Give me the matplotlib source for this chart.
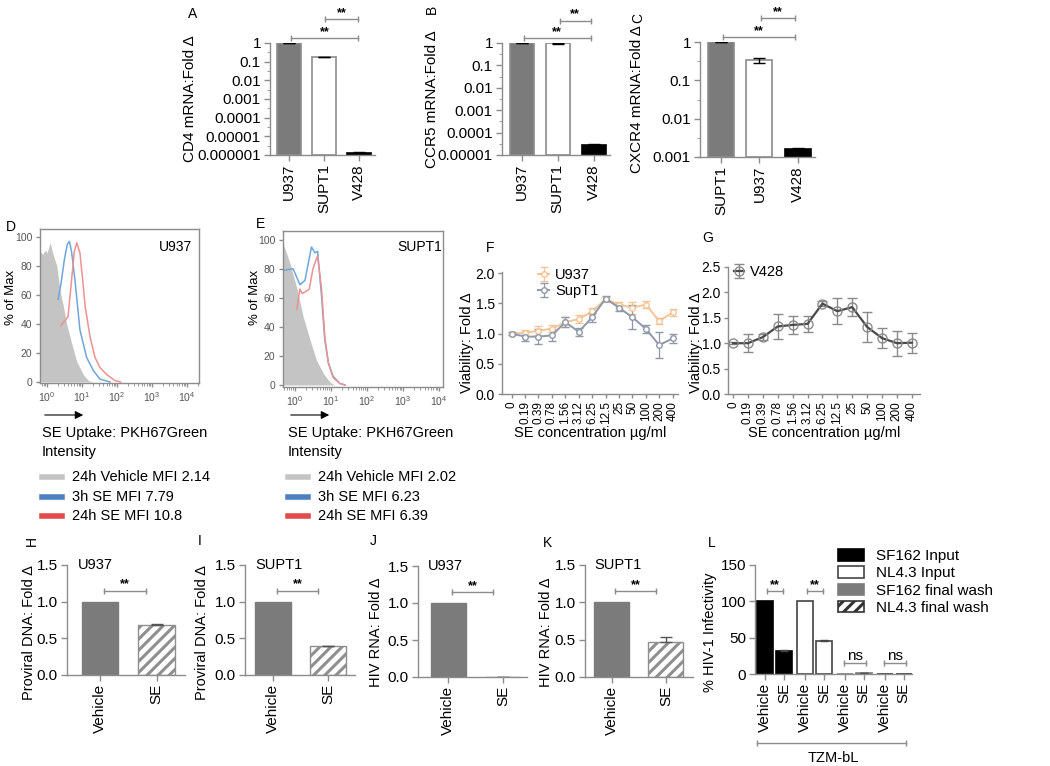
import matplotlib
matplotlib.use("Agg")
import matplotlib.pyplot as plt
import numpy as np
from matplotlib.lines import Line2D

W, H = 1050, 766
plt.rcParams["font.family"] = ["Liberation Sans", "DejaVu Sans"]
plt.rcParams["hatch.linewidth"] = 2.2

GREY = "#8c8c8c"
FILL = "#7b7b7b"

# ---- A-C: receptor mRNA (log scale)
A_cells = ["U937", "SUPT1", "V428"]
A_vals = [1.0, 0.18, 1.3e-6]
A_err = [0.0, 0.008, 0.1e-6]
B_cells = ["U937", "SUPT1", "V428"]
B_vals = [1.0, 0.95, 2.9e-5]
B_err = [0.0, 0.05, 0.2e-5]
C_cells = ["SUPT1", "U937", "V428"]
C_vals = [1.0, 0.33, 0.0016]
C_err = [0.0, 0.05, 0.0001]

# ---- D-E: flow histograms (x as log10 exponent, y as % of max)
D_gray_exp = [-0.2, -0.12, -0.05, 0.0, 0.05, 0.09, 0.15, 0.2, 0.28, 0.37, 0.47, 0.56, 0.7, 0.85, 1.04, 1.18, 1.3]
D_gray_val = [90, 88, 91, 89, 93, 96, 90, 86, 80, 63, 52, 40, 27, 14, 5, 1, 0]
D_blue_exp = [0.32, 0.4, 0.5, 0.58, 0.64, 0.7, 0.8, 0.94, 1.13, 1.32, 1.51, 1.8]
D_blue_val = [57, 68, 85, 95, 97, 90, 70, 36, 17, 8, 2, 0]
D_red_exp = [0.4, 0.5, 0.6, 0.7, 0.78, 0.85, 0.94, 1.02, 1.09, 1.23, 1.37, 1.51, 1.71, 1.94, 2.1]
D_red_val = [39, 42, 45, 70, 90, 96, 89, 70, 52, 31, 17, 10, 5, 1, 0]
E_gray_exp = [-0.33, -0.28, -0.14, 0.05, 0.23, 0.42, 0.6, 0.79, 0.97, 1.1]
E_gray_val = [97, 94, 84, 67, 47, 31, 17, 8, 2, 0]
E_blue_exp = [-0.28, -0.05, 0.14, 0.28, 0.46, 0.56, 0.63, 0.74, 0.83, 0.93, 1.06, 1.25, 1.39]
E_blue_val = [79, 80, 69, 72, 95, 91, 92, 61, 31, 15, 6, 1, 0]
E_red_exp = [0.05, 0.14, 0.2, 0.28, 0.4, 0.5, 0.63, 0.74, 0.83, 0.93, 1.06, 1.25, 1.39]
E_red_val = [52, 66, 63, 64, 66, 80, 89, 66, 33, 15, 5, 1, 0]
D_legend = ["24h Vehicle MFI 2.14", "3h SE MFI 7.79", "24h SE MFI 10.8"]
E_legend = ["24h Vehicle MFI 2.02", "3h SE MFI 6.23", "24h SE MFI 6.39"]

# ---- F-G: viability
conc = ["0", "0.19", "0.39", "0.78", "1.56", "3.12", "6.25", "12.5", "25", "50", "100", "200", "400"]
F_u937 = [1.0, 1.01, 1.05, 1.08, 1.19, 1.24, 1.37, 1.57, 1.48, 1.43, 1.48, 1.21, 1.35]
F_u937_err = [0.03, 0.05, 0.07, 0.06, 0.08, 0.06, 0.05, 0.04, 0.05, 0.1, 0.06, 0.05, 0.06]
F_supt1 = [1.0, 0.95, 0.95, 0.97, 1.19, 1.03, 1.27, 1.58, 1.43, 1.27, 1.08, 0.81, 0.92]
F_supt1_err = [0.02, 0.08, 0.12, 0.1, 0.08, 0.07, 0.07, 0.04, 0.05, 0.2, 0.07, 0.22, 0.08]
G_v428 = [1.0, 1.0, 1.12, 1.33, 1.36, 1.38, 1.78, 1.63, 1.71, 1.32, 1.1, 1.0, 1.01]
G_v428_err = [0.02, 0.18, 0.06, 0.25, 0.18, 0.15, 0.05, 0.25, 0.18, 0.3, 0.2, 0.25, 0.2]

# ---- H-K: fold change vs vehicle
treat = ["Vehicle", "SE"]
H_vals, H_err = [1.0, 0.68], [0.0, 0.01]
I_vals, I_err = [1.0, 0.39], [0.0, 0.01]
J_vals, J_err = [1.0, 0.0], [0.0, 0.0]
K_vals, K_err = [1.0, 0.47], [0.0, 0.06]

# ---- L: TZM-bL infectivity
L_groups = ["SF162 Input", "NL4.3 Input", "SF162 final wash", "NL4.3 final wash"]
L_vals = [[100, 31], [100, 45], [0.4, 1.0], [0.3, 0.3]]
L_err = [[0, 2], [0, 2], [0, 0.3], [0, 0]]

fig = plt.figure(figsize=(W / 100, H / 100), dpi=100)


def add_ax(box):
    l, t, r, b = box
    return fig.add_axes([l / W, 1 - b / H, (r - l) / W, (b - t) / H])


def ftext(x, y, s, **kw):
    kw.setdefault("va", "center")
    fig.text(x / W, 1 - y / H, s, **kw)


def ylab_at(ax, box, x_px, y_px=None):
    # x_px is the right edge of the rotated label
    l, t, r, b = box
    fy = 0.5 if y_px is None else (b - y_px) / (b - t)
    ax.yaxis.set_label_coords((x_px - l) / (r - l), fy)


def style(ax, spines=("left", "bottom")):
    for name, sp in ax.spines.items():
        sp.set_visible(name in spines)
        sp.set_color(GREY)
        sp.set_linewidth(1.0)
    ax.tick_params(color=GREY, direction="out", length=4, width=1, pad=2.5)


def sig(ax, x0, x1, y, text="**", size=9, trans=None):
    trans = trans or ax.get_xaxis_transform()
    ax.plot([x0, x1], [y, y], transform=trans, color=GREY, lw=1,
            marker="|", ms=5, clip_on=False)
    ax.text((x0 + x1) / 2, y, text, transform=trans, ha="center",
            va="bottom", fontsize=size, fontweight="bold" if text == "**" else None)


# ---------------- A-C
def mrna(box, cells, vals, errs, ymin, ylabel, ylab_x, sigs):
    ax = add_ax(box)
    style(ax)
    x = np.arange(len(cells))
    v = np.array(vals)
    ax.bar(x, v - ymin, bottom=ymin, width=0.68,
           color=[FILL, "white", "black"], edgecolor=[GREY, GREY, "black"], lw=1.2)
    ax.errorbar(x, v, yerr=errs, fmt="none", ecolor="black", capsize=4, lw=1)
    ax.set_yscale("log")
    ax.set_ylim(ymin, 1)
    n = int(round(-np.log10(ymin)))
    ax.set_yticks([10.0 ** -k for k in range(n + 1)])
    ax.set_yticklabels(["1"] + [f"{10.0 ** -k:.{k}f}" for k in range(1, n + 1)], fontsize=11)
    ax.set_yticks([10.0 ** (-k - 0.5) for k in range(n)], minor=True)
    ax.tick_params(axis="y", which="minor", color=GREY, length=2.5)
    ax.set_xticks(x)
    ax.set_xticklabels(cells, rotation=90, fontsize=11)
    ax.set_xlim(-0.55, 2.45)
    ax.set_ylabel(ylabel, fontsize=11)
    ylab_at(ax, box, ylab_x)
    for x0, x1, yf in sigs:
        sig(ax, x0, x1, yf)
    return ax


mrna((270, 43, 375, 155), A_cells, A_vals, A_err, 1e-6, "CD4 mRNA:Fold Δ", 197,
     [(0.05, 1.97, 1.045), (1.03, 1.97, 1.21)])
mrna((502, 43, 610, 155), B_cells, B_vals, B_err, 1e-5, "CCR5 mRNA:Fold Δ", 439,
     [(0.05, 1.92, 1.045), (1.05, 1.92, 1.20)])
mrna((700, 42, 815, 157), C_cells, C_vals, C_err, 1e-3, "CXCR4 mRNA:Fold Δ", 644,
     [(0.05, 1.92, 1.045), (1.05, 1.92, 1.21)])
ftext(188, 14, "A", fontsize=10)
ftext(432, 9, "B", fontsize=10, rotation=90, ha="center")
ftext(638, 18, "C", fontsize=10, rotation=90, ha="center")


# ---------------- D-E
def flow(box, gx, gv, bx, bv, rx, rv, xlim, ylim, name, name_x, ylab_x):
    ax = add_ax(box)
    style(ax, spines=("left", "bottom", "top", "right"))
    ax.fill_between(np.power(10.0, gx), gv, color="#c4c4c4", lw=0, zorder=1)
    ax.plot(np.power(10.0, bx), bv, color="#6ea6dc", lw=1.1, zorder=2)
    ax.plot(np.power(10.0, rx), rv, color="#ee9191", lw=1.1, zorder=2)
    ax.set_xscale("log")
    ax.set_xlim(10 ** xlim[0], 10 ** xlim[1])
    ax.set_ylim(*ylim)
    ax.set_xticks([1, 10, 100, 1000, 10000])
    ax.set_yticks([0, 20, 40, 60, 80, 100])
    ax.tick_params(labelsize=7.5, labelcolor="#555555", length=3)
    ax.tick_params(which="minor", color=GREY, length=2)
    ax.set_ylabel("% of Max", fontsize=9.5)
    ylab_at(ax, box, ylab_x, 297)
    ftext(name_x, 247, name, fontsize=10, ha="center")
    return ax


flow((40, 229, 199, 383), D_gray_exp, D_gray_val, D_blue_exp, D_blue_val,
     D_red_exp, D_red_val, (-0.2, 4.34), (-0.7, 105.5), "U937", 176, 17)
flow((283, 231, 443, 387), E_gray_exp, E_gray_val, E_blue_exp, E_blue_val,
     E_red_exp, E_red_val, (-0.33, 4.11), (-1.4, 106), "SUPT1", 420, 261)
ftext(6, 227, "D", fontsize=10)
ftext(256, 224, "E", fontsize=10)

leg_cols = ["#c4c4c4", "#4f7fc0", "#e24b4b"]
for x0, labels in ((42, D_legend), (288, E_legend)):
    fig.add_artist(matplotlib.patches.FancyArrowPatch(
        (x0 / W, 1 - 415 / H), ((x0 + 44) / W, 1 - 415 / H), transform=fig.transFigure,
        arrowstyle="-|>", mutation_scale=12, color="black", lw=0.8))
    ftext(x0, 433, "SE Uptake: PKH67Green", fontsize=10.5)
    ftext(x0, 452, "Intensity", fontsize=10.5)
    for i, (lab, col) in enumerate(zip(labels, leg_cols)):
        yy = 1 - (477 + 19.5 * i) / H
        fig.add_artist(Line2D([x0 / W, (x0 + 20) / W], [yy, yy], color=col, lw=4,
                              transform=fig.transFigure))
        ftext(x0 + 30, 477 + 19.5 * i, lab, fontsize=10.5)


# ---------------- F-G
def viab(box, xlim, ymax, ytick_max, ylab_x):
    ax = add_ax(box)
    style(ax)
    ax.tick_params(length=3, pad=2)
    ax.set_xlim(*xlim)
    ax.set_ylim(0, ymax)
    ax.set_yticks(np.arange(0, ytick_max + 0.01, 0.5))
    ax.yaxis.set_major_formatter(matplotlib.ticker.FormatStrFormatter("%.1f"))
    ax.tick_params(axis="y", labelsize=10)
    ax.set_xticks(np.arange(len(conc)))
    ax.set_xticklabels(conc, rotation=90, fontsize=8.5)
    ax.set_ylabel("Viability: Fold Δ", fontsize=10.5)
    ylab_at(ax, box, ylab_x, 343)
    ax.set_xlabel("SE concentration µg/ml", fontsize=10.5)
    l, t, r, b = box
    ax.xaxis.set_label_coords(0.5, (b - 426) / (b - t))
    return ax


xs = np.arange(len(conc))
axF = viab((502, 272, 678, 394), (-0.72, 12.4), 2.02, 2.0, 474)
axF.errorbar(xs, F_u937, yerr=F_u937_err, color="#f3bf8c", lw=1.4, marker="o",
             ms=4, mfc="white", capsize=3, elinewidth=0.9, alpha=0.9, label="U937")
axF.errorbar(xs, F_supt1, yerr=F_supt1_err, color="#8f98a8", lw=1.4, marker="o",
             ms=4, mfc="white", capsize=3, elinewidth=0.9, label="SupT1")
axF.legend(loc="upper left", bbox_to_anchor=(0.17, 1.08), frameon=False, fontsize=10.5,
           handlelength=0.8, handletextpad=0.4, labelspacing=0.15, borderaxespad=0)
ftext(486, 248, "F", fontsize=10)

axG = viab((728, 267, 920, 394), (-0.34, 12.55), 2.5, 2.5, 703)
axG.errorbar(xs, G_v428, yerr=G_v428_err, color="#4a4a4a", lw=1.6, marker="o", ms=6.5,
             mfc="none", mec="#8a8a8a", ecolor="#8a8a8a", capsize=3.5, elinewidth=1,
             label="V428")
axG.legend(loc="upper left", bbox_to_anchor=(0.0, 1.06), frameon=False, fontsize=10.5,
           handlelength=0.7, handletextpad=0.4, borderaxespad=0)
ftext(702, 238, "G", fontsize=10)


# ---------------- H-K
def fold(box, vals, errs, ylabel, inner, ylab_x, spacing_lim):
    ax = add_ax(box)
    style(ax)
    x = np.arange(2)
    ax.bar(x, vals, width=0.64, color=[FILL, "white"], edgecolor=[FILL, "#8f8f8f"],
           hatch=["", "///"], lw=1)
    ax.errorbar(x[1:], vals[1:], yerr=[[0], errs[1:]], fmt="none", ecolor="#555555",
                capsize=4, lw=1)
    ax.set_xlim(*spacing_lim)
    ax.set_ylim(0, 1.5)
    ax.set_yticks([0, 0.5, 1.0, 1.5])
    ax.yaxis.set_major_formatter(matplotlib.ticker.FormatStrFormatter("%.1f"))
    ax.tick_params(axis="y", labelsize=11)
    ax.set_xticks(x)
    ax.set_xticklabels(treat, rotation=90, fontsize=11)
    ax.set_ylabel(ylabel, fontsize=10.5)
    ylab_at(ax, box, ylab_x, 632)
    ax.text(0.09, 1.0, inner, transform=ax.transAxes, fontsize=10.5, va="center")
    sig(ax, 0.07, 0.82, 1.15, trans=ax.transData)
    return ax


fold((67, 565, 185, 675), H_vals, H_err, "Proviral DNA: Fold Δ", "U937", 36, (-0.58, 1.5))
fold((245, 565, 355, 675), I_vals, I_err, "Proviral DNA: Fold Δ", "SUPT1", 209, (-0.51, 1.49))
fold((418, 566, 527, 677), J_vals, J_err, "HIV RNA: Fold Δ", "U937", 383, (-0.55, 1.44))
fold((585, 565, 693, 677), K_vals, K_err, "HIV RNA: Fold Δ", "SUPT1", 553, (-0.49, 1.5))
ftext(32, 541, "H", fontsize=10, rotation=90, ha="center")
ftext(200, 541, "I", fontsize=10, ha="center")
ftext(373, 541, "J", fontsize=10, ha="center")
ftext(547, 543, "K", fontsize=10, ha="center")
ftext(712, 543, "L", fontsize=10, ha="center")

# ---------------- L
axL = add_ax((755, 565, 912, 674))
style(axL)
face = ["black", "white", FILL, "white"]
edge = ["black", "#444444", FILL, "#333333"]
hatch = ["", "", "", "///"]
ticks, labels = [], []
for g, (vals, errs) in enumerate(zip(L_vals, L_err)):
    pos = g * 2.1 + np.arange(2)
    axL.bar(pos, vals, width=0.84, color=face[g], edgecolor=edge[g], hatch=hatch[g],
            lw=1.2, label=L_groups[g])
    axL.errorbar(pos[1:], vals[1:], yerr=[[0], errs[1:]], fmt="none", ecolor="#444444",
                 capsize=3, lw=1)
    ticks += list(pos)
    labels += treat
    if g < 2:
        sig(axL, pos[0] + 0.1, pos[1] - 0.05, 114, "**", trans=axL.transData)
    else:
        sig(axL, pos[0] - 0.05, pos[1] + 0.1, 15, "ns", size=11, trans=axL.transData)
axL.set_xlim(-0.53, 7.74)
axL.set_ylim(0, 150)
axL.set_yticks([0, 50, 100, 150])
axL.tick_params(axis="y", labelsize=11)
axL.set_xticks(ticks)
axL.set_xticklabels(labels, rotation=90, fontsize=11)
axL.set_ylabel("% HIV-1 Infectivity", fontsize=10.5)
ylab_at(axL, (755, 565, 912, 674), 717, 632)
tr = axL.get_xaxis_transform()
axL.plot([-0.4, 7.4], [-0.633, -0.633], transform=tr, color=GREY, lw=1, marker="|",
         ms=5, clip_on=False)
axL.text(3.6, -0.77, "TZM-bL", transform=tr, ha="center", va="center", fontsize=10.5)
axL.legend(loc="upper left", bbox_to_anchor=(832 / W, 1 - 543 / H),
           bbox_transform=fig.transFigure, frameon=False, fontsize=11,
           handlelength=1.7, handleheight=0.8, labelspacing=0.2, handletextpad=0.8,
           borderaxespad=0)

fig.savefig("out.png", dpi=100)
